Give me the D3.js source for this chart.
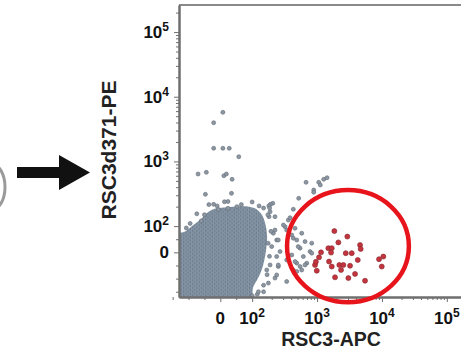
<!DOCTYPE html>
<html>
<head>
<meta charset="utf-8">
<script src="https://cdn.jsdelivr.net/npm/d3@7"></script>
<style>
  body { margin: 0; background: #fff; overflow: hidden; }
  svg { display: block; font-family: "Liberation Sans", Arial, sans-serif; font-weight: bold; }
</style>
</head>
<body>
<div id="chart"></div>
<script>
// axis domains (fluorescence units, biexponential display)
const X_DOMAIN = [-130, 262144];
const Y_DOMAIN = [-170, 262144];
const MAJOR_TICKS = [0, 1e2, 1e3, 1e4, 1e5];
const MINOR_TICKS = [-150, -100, -50, 50, 200, 300, 400, 500, 600, 700, 800, 900,
  2000, 3000, 4000, 5000, 6000, 7000, 8000, 9000,
  20000, 30000, 40000, 50000, 60000, 70000, 80000, 90000, 200000];

// outline of the dense main population
const clusterX = [-300, -300, -114, -89, -64, -42, -20, 12, 49, 87, 115, 142, 161, 170, 164, 152, 137, 119, 103, 93];
const clusterY = [-300, 55, 78, 100, 124, 159, 184, 194, 201, 201, 184, 148, 104, 59, 9, -36, -74, -105, -135, -300];

// sparse grey events (outliers above the main population)
const outlierX = [8, -21, -21, 8, 28, 58, -70, -44, 11, 19, 37, -47, 35, 13, -21, 191,
  677, 889, 889, 1062, 1124, 1268, 1426, 522, -60, -6, 24, 52, 181, 175, 186];
const outlierY = [5745, 3970, 1596, 1596, 1596, 1183, 639, 679, 601, 639, 529, 310, 321, 238, 217, 217,
  475, 361, 333, 475, 432, 529, 560, 269, 120, 180, 188, 200, 206, 150, 190];

// grey events around the edge of the main population
const fringeX = [431, 208, 189, 225, 361, 321, 458, 408, 581, 487, 653, 547, 212, 239, 200, 269, 408, 615,
  487, 341, 780, 253, 431, 581, 225, 341, 168, 178, 694, 828, 828, 384, 303, 341, 225, 253, 431, 513,
  239, 189, 253, 458, 547, 239, 487, 653, 150, 120, 100,
  -107, -95, -74, -50, -36, -10, 24, 66, 100, 128, 150, 182, 195, 176, 185, 170, 150, 125];
const fringeY = [182, 225, 167, 140, 124, 98, 92, 66, 73, 47, 41, 16, 73, 47, 22, 3, -10, -16,
  -41, -29, 3, -54, -67, -67, -98, -111, -67, -117, -41, 35, -3, 135, 104, 85, 85, 47, 54, 22,
  -16, -48, -48, -35, -54, -86, -73, -48, -150, -160, -165,
  93, 110, 155, 150, 215, 205, 240, 215, 236, 205, 190, 140, 80, 35, -15, -85, -125, -150];

// gated (red) events
const redX = [1848, 2930, 2130, 4600, 4700, 1494, 1685, 1152, 1643, 2770, 3425, 1073, 1531, 4240,
  9020, 10510, 9930, 931, 990, 1685, 2206, 2543, 3224, 2344, 3850, 1893, 3037, 5490, 960];
const redY = [81, 60, 38, 28, 13, 16, 16, 0, -1, -3, -3, -19, -35, -29,
  -26, -16, -54, -48, -70, -54, -48, -48, -51, -67, -82, -95, -98, -108, -36];

// gate drawn around the red events
const GATE_X = [345, 26000];
const GATE_Y = [-190, 360];

const W = 461, H = 351;

function biex(z) {
  return v => v >= 100 ? Math.log10(v) : 2 + (v - 100) / 100 * z;
}
function logicleScale(domain, range, z) {
  const tf = biex(z);
  const lin = d3.scaleLinear().domain(domain.map(tf)).range(range);
  const s = v => lin(tf(v));
  s.domain = () => domain.slice();
  s.range = () => lin.range();
  s.copy = () => logicleScale(domain, range, z);
  return s;
}

const x = logicleScale(X_DOMAIN, [179, 474], 0.49);
const y = logicleScale(Y_DOMAIN, [297, 5], 0.406);

const svg = d3.select('#chart').append('svg')
  .attr('width', W).attr('height', H);

const defs = svg.append('defs');
defs.append('clipPath').attr('id', 'plotClip')
  .append('rect')
  .attr('x', x(X_DOMAIN[0])).attr('y', y(Y_DOMAIN[1]))
  .attr('width', x(X_DOMAIN[1]) - x(X_DOMAIN[0]))
  .attr('height', y(Y_DOMAIN[0]) - y(Y_DOMAIN[1]));

// dotted texture for the dense population
const pat = defs.append('pattern').attr('id', 'dots')
  .attr('patternUnits', 'userSpaceOnUse')
  .attr('width', 4.4).attr('height', 3.8);
pat.append('rect').attr('width', 4.4).attr('height', 3.8).attr('fill', '#465768');
[[1.1, 0.95], [3.3, 2.85], [-1.1, 2.85], [5.5, 0.95], [1.1, 4.75], [3.3, -0.95]].forEach(([cx, cy]) => {
  pat.append('circle').attr('cx', cx).attr('cy', cy).attr('r', 1.4)
    .attr('fill', '#67798d').attr('stroke', '#a9b6c3').attr('stroke-width', 0.5);
});

const plot = svg.append('g').attr('clip-path', 'url(#plotClip)');

// main population
const outline = d3.line()
  .x(d => x(d[0])).y(d => y(d[1]))
  .curve(d3.curveCatmullRomClosed);
plot.append('path')
  .attr('d', outline(d3.zip(clusterX, clusterY)))
  .attr('fill', 'url(#dots)');

// grey events
plot.selectAll('.grey')
  .data(d3.zip(fringeX.concat(outlierX), fringeY.concat(outlierY)))
  .join('circle')
  .attr('class', 'grey')
  .attr('cx', d => x(d[0])).attr('cy', d => y(d[1]))
  .attr('r', 2)
  .attr('fill', '#8d97a2').attr('stroke', '#626c77').attr('stroke-width', 0.6);

// red events
plot.selectAll('.red')
  .data(d3.zip(redX, redY))
  .join('circle')
  .attr('class', 'red')
  .attr('cx', d => x(d[0])).attr('cy', d => y(d[1]))
  .attr('r', 2.5)
  .attr('fill', '#c4343e').attr('stroke', '#84262c').attr('stroke-width', 0.6);

// frame
const axisClr = '#6f6f6f';
svg.append('line')
  .attr('x1', x(X_DOMAIN[0])).attr('x2', W)
  .attr('y1', y(Y_DOMAIN[1])).attr('y2', y(Y_DOMAIN[1]))
  .attr('stroke', '#8a8a8a').attr('stroke-width', 2);

function styleAxis(g) {
  g.select('.domain').attr('stroke', axisClr).attr('stroke-width', 2);
  g.selectAll('.tick line').attr('stroke', axisClr).attr('stroke-width', 1);
  g.selectAll('.tick text').remove();
}

svg.append('g')
  .attr('transform', `translate(0,${y(Y_DOMAIN[0])})`)
  .call(d3.axisBottom(x).tickValues(MINOR_TICKS).tickSize(3).tickSizeOuter(0))
  .call(styleAxis);
svg.append('g')
  .attr('transform', `translate(0,${y(Y_DOMAIN[0])})`)
  .call(d3.axisBottom(x).tickValues(MAJOR_TICKS).tickSize(5).tickSizeOuter(0))
  .call(styleAxis);
svg.append('g')
  .attr('transform', `translate(${x(X_DOMAIN[0])},0)`)
  .call(d3.axisLeft(y).tickValues(MINOR_TICKS).tickSize(3).tickSizeOuter(0))
  .call(styleAxis);
svg.append('g')
  .attr('transform', `translate(${x(X_DOMAIN[0])},0)`)
  .call(d3.axisLeft(y).tickValues(MAJOR_TICKS).tickSize(5).tickSizeOuter(0))
  .call(styleAxis);

function tickLabel(sel, v) {
  if (v === 0) { sel.text('0'); return; }
  sel.append('tspan').text('10');
  sel.append('tspan').attr('dy', -7).attr('font-size', 12).text(Math.round(Math.log10(v)));
}

svg.append('g').selectAll('text')
  .data(MAJOR_TICKS)
  .join('text')
  .attr('x', d => x(d)).attr('y', 324)
  .attr('text-anchor', 'middle').attr('font-size', 17).attr('fill', '#111')
  .each(function (d) { tickLabel(d3.select(this), d); });

svg.append('g').selectAll('text')
  .data(MAJOR_TICKS)
  .join('text')
  .attr('x', 169).attr('y', d => y(d) + 6)
  .attr('text-anchor', 'end').attr('font-size', 17).attr('fill', '#111')
  .each(function (d) { tickLabel(d3.select(this), d); });

// axis titles
svg.append('text')
  .attr('x', 331).attr('y', 346)
  .attr('text-anchor', 'middle').attr('font-size', 19.5).attr('fill', '#222')
  .text('RSC3-APC');
svg.append('text')
  .attr('transform', 'translate(116,150) rotate(-90)')
  .attr('text-anchor', 'middle').attr('font-size', 21).attr('fill', '#222')
  .text('RSC3d371-PE');

// gate
const gx0 = x(GATE_X[0]), gx1 = x(GATE_X[1]);
const gy0 = y(GATE_Y[1]), gy1 = y(GATE_Y[0]);
svg.append('ellipse')
  .attr('cx', (gx0 + gx1) / 2).attr('cy', (gy0 + gy1) / 2)
  .attr('rx', (gx1 - gx0) / 2).attr('ry', (gy1 - gy0) / 2)
  .attr('fill', 'none').attr('stroke', '#e8141c').attr('stroke-width', 4.5);

// arrow from previous panel
svg.append('path')
  .attr('d', 'M17,167 L59,167 L59,155 L90,172.5 L59,190 L59,178 L17,178 Z')
  .attr('fill', '#111');
svg.append('ellipse')
  .attr('cx', -7).attr('cy', 187).attr('rx', 12).attr('ry', 22)
  .attr('fill', 'none').attr('stroke', '#9a9a9a').attr('stroke-width', 3);
</script>
</body>
</html>
